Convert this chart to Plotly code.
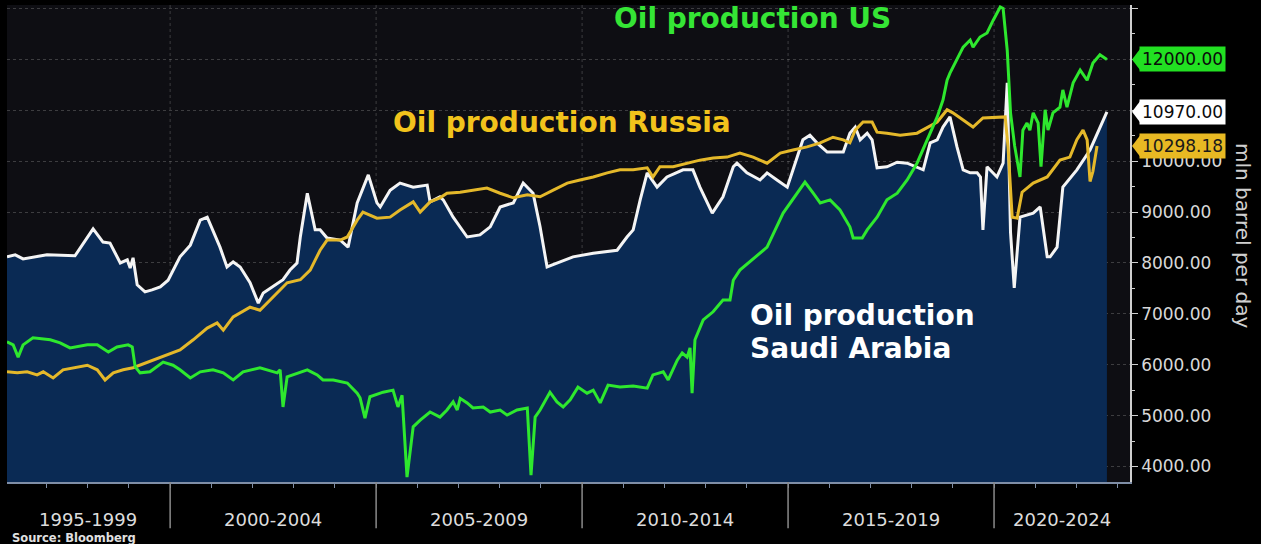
import plotly.graph_objects as go

# ---------------- data ----------------
saudi_x = [1996.04, 1996.24, 1996.43, 1997.01, 1997.69, 1998.13, 1998.37, 1998.54, 1998.79, 1998.96,
           1999.03, 1999.10, 1999.20, 1999.39, 1999.56, 1999.76, 1999.95, 2000.24, 2000.49, 2000.73,
           2000.90, 2001.21, 2001.38, 2001.53, 2001.70, 2001.94, 2002.14, 2002.26, 2002.74, 2002.91,
           2003.08, 2003.16, 2003.33, 2003.52, 2003.64, 2003.81, 2004.13, 2004.32, 2004.54, 2004.81,
           2005.02, 2005.10, 2005.34, 2005.58, 2005.90, 2006.24, 2006.31, 2006.55, 2006.63, 2006.87,
           2007.21, 2007.52, 2007.77, 2008.01, 2008.33, 2008.57, 2008.81, 2008.98, 2009.15, 2009.39,
           2009.78, 2010.27, 2010.85, 2011.09, 2011.24, 2011.41, 2011.58, 2011.82, 2012.06, 2012.45,
           2012.69, 2012.86, 2013.16, 2013.42, 2013.67, 2013.76, 2014.00, 2014.32, 2014.49, 2014.73,
           2014.98, 2015.12, 2015.36, 2015.53, 2015.70, 2015.95, 2016.34, 2016.50, 2016.63, 2016.75,
           2016.92, 2017.04, 2017.16, 2017.40, 2017.65, 2017.89, 2018.13, 2018.28, 2018.45, 2018.62,
           2018.76, 2018.93, 2019.10, 2019.25, 2019.42, 2019.59, 2019.67, 2019.73, 2019.83, 2020.07,
           2020.22, 2020.32, 2020.40, 2020.49, 2020.63, 2020.95, 2021.12, 2021.29, 2021.36, 2021.53,
           2021.67, 2022.01, 2022.33, 2022.74]
saudi_y = [8120, 8160, 8080, 8160, 8140, 8670, 8410, 8390, 8000, 8060,
           7900, 8100, 7570, 7430, 7470, 7530, 7660, 8120, 8350, 8840,
           8900, 8310, 7920, 8020, 7920, 7610, 7210, 7410, 7670, 7860,
           8000, 8510, 9370, 8650, 8650, 8490, 8450, 8310, 9180, 9730,
           9180, 9100, 9430, 9570, 9490, 9530, 9200, 9300, 9240, 8900,
           8510, 8550, 8710, 9100, 9180, 9570, 9370, 8710, 7920, 8000,
           8120, 8190, 8250, 8510, 8650, 9240, 9770, 9490, 9690, 9830,
           9830, 9490, 8980, 9300, 9890, 9960, 9770, 9630, 9770, 9630,
           9490, 9830, 10420, 10510, 10360, 10180, 10180, 10550, 10670, 10420,
           10550, 10420, 9870, 9890, 9980, 9960, 9870, 9830, 10360, 10420,
           10670, 10870, 10280, 9830, 9770, 9770, 9690, 8650, 9890, 9690,
           9960, 11540, 8600, 7510, 8900, 8980, 9100, 8120, 8120, 8310,
           9490, 9830, 10220, 10970]

us_x = [1996.04, 1996.19, 1996.31, 1996.43, 1996.67, 1997.09, 1997.33, 1997.57, 1997.99, 1998.23,
        1998.50, 1998.71, 1998.98, 1999.08, 1999.15, 1999.27, 1999.51, 1999.83, 2000.07, 2000.24,
        2000.49, 2000.73, 2001.04, 2001.29, 2001.53, 2001.77, 2002.18, 2002.35, 2002.60, 2002.67,
        2002.74, 2002.84, 2003.16, 2003.33, 2003.57, 2003.71, 2003.96, 2004.30, 2004.54, 2004.61,
        2004.73, 2004.85, 2005.17, 2005.41, 2005.53, 2005.63, 2005.75, 2005.90, 2006.07, 2006.31,
        2006.55, 2006.72, 2006.87, 2006.97, 2007.04, 2007.21, 2007.35, 2007.60, 2007.77, 2008.01,
        2008.18, 2008.42, 2008.67, 2008.76, 2008.86, 2008.98, 2009.22, 2009.39, 2009.54, 2009.71,
        2009.90, 2010.12, 2010.27, 2010.44, 2010.63, 2010.92, 2011.24, 2011.58, 2011.72, 2011.97,
        2012.09, 2012.31, 2012.43, 2012.55, 2012.62, 2012.67, 2012.74, 2012.94, 2013.18, 2013.42,
        2013.59, 2013.67, 2013.83, 2014.49, 2014.88, 2015.41, 2015.61, 2015.78, 2016.02, 2016.26,
        2016.50, 2016.58, 2016.80, 2016.92, 2017.16, 2017.40, 2017.65, 2017.89, 2018.13, 2018.37,
        2018.62, 2018.76, 2018.86, 2018.93, 2019.10, 2019.25, 2019.42, 2019.49, 2019.66, 2019.83,
        2019.98, 2020.15, 2020.22, 2020.32, 2020.40, 2020.50, 2020.63, 2020.70, 2020.80, 2020.87,
        2020.95, 2021.07, 2021.14, 2021.24, 2021.31, 2021.43, 2021.60, 2021.67, 2021.77, 2021.92,
        2022.09, 2022.26, 2022.40, 2022.57, 2022.74]
us_y = [6450, 6390, 6150, 6390, 6530, 6490, 6430, 6330, 6390, 6390,
        6250, 6350, 6390, 6350, 5960, 5840, 5860, 6050, 5990, 5900,
        5740, 5860, 5900, 5840, 5700, 5860, 5940, 5900, 5840, 5900,
        5170, 5760, 5860, 5900, 5800, 5700, 5700, 5640, 5440, 5350,
        4950, 5370, 5460, 5500, 5170, 5400, 3790, 4780, 4910, 5070,
        4970, 5110, 5270, 5110, 5340, 5250, 5150, 5170, 5070, 5110,
        5010, 5110, 5150, 3830, 4970, 5110, 5460, 5270, 5170, 5310,
        5560, 5440, 5500, 5250, 5600, 5560, 5580, 5540, 5800, 5860,
        5700, 6090, 6230, 6150, 6330, 5440, 6490, 6880, 7040, 7270,
        7270, 7660, 7860, 8310, 8980, 9590, 9370, 9180, 9240, 9040,
        8710, 8490, 8490, 8650, 8900, 9240, 9370, 9630, 9960, 10420,
        10870, 11200, 11590, 11730, 11990, 12240, 12380, 12240, 12440, 12520,
        12770, 13030, 13000, 12180, 10950, 10300, 9690, 10610, 10750, 10610,
        10950, 10750, 9890, 11010, 10610, 10950, 11060, 11400, 11060, 11540,
        11790, 11590, 11930, 12090, 12000]

russia_x = [1996.04, 1996.29, 1996.53, 1996.77, 1996.92, 1997.16, 1997.40, 1997.74, 1997.99, 1998.23,
            1998.42, 1998.62, 1998.86, 1999.10, 1999.27, 1999.59, 1999.93, 2000.24, 2000.56, 2000.90,
            2001.14, 2001.29, 2001.53, 2001.94, 2002.18, 2002.50, 2002.84, 2003.16, 2003.40, 2003.64,
            2003.81, 2004.13, 2004.30, 2004.54, 2004.68, 2005.02, 2005.34, 2005.58, 2005.90, 2006.07,
            2006.31, 2006.55, 2006.72, 2007.04, 2007.35, 2007.69, 2008.01, 2008.33, 2008.67, 2008.98,
            2009.30, 2009.64, 2009.95, 2010.27, 2010.61, 2010.92, 2011.24, 2011.58, 2011.72, 2011.89,
            2012.21, 2012.55, 2012.86, 2013.18, 2013.52, 2013.83, 2014.15, 2014.49, 2014.81, 2015.12,
            2015.46, 2015.78, 2016.09, 2016.34, 2016.50, 2016.63, 2016.82, 2017.04, 2017.16, 2017.40,
            2017.72, 2018.13, 2018.37, 2018.62, 2018.86, 2019.00, 2019.25, 2019.49, 2019.73, 2020.07,
            2020.27, 2020.34, 2020.44, 2020.56, 2020.68, 2020.95, 2021.29, 2021.60, 2021.84, 2022.01,
            2022.16, 2022.26, 2022.33, 2022.40, 2022.50]
russia_y = [5860, 5840, 5860, 5800, 5860, 5740, 5900, 5960, 5990, 5900,
            5700, 5840, 5900, 5940, 5990, 6090, 6190, 6290, 6490, 6720,
            6820, 6680, 6940, 7130, 7070, 7330, 7610, 7670, 7860, 8250,
            8450, 8450, 8510, 8840, 9000, 8880, 8900, 9040, 9200, 9000,
            9200, 9280, 9370, 9390, 9430, 9470, 9370, 9280, 9340, 9300,
            9430, 9570, 9630, 9690, 9770, 9830, 9830, 9870, 9690, 9890,
            9890, 9960, 10020, 10060, 10080, 10160, 10080, 9960, 10160, 10220,
            10280, 10360, 10470, 10420, 10360, 10610, 10770, 10770, 10570, 10550,
            10510, 10550, 10650, 10770, 11010, 10950, 10810, 10670, 10850, 10870,
            10870, 10280, 8900, 8880, 9390, 9570, 9690, 10020, 10080, 10420,
            10610, 10420, 9600, 9800, 10298.18]

period_labels = ["1995-1999", "2000-2004", "2005-2009", "2010-2014", "2015-2019", "2020-2024"]
label_centers = [1998.0, 2002.5, 2007.5, 2012.5, 2017.5, 2021.65]
separators = [2000, 2005, 2010, 2015, 2020]
minor_years = list(range(1997, 2024))
y_ticks = [4000, 5000, 6000, 7000, 8000, 9000, 10000, 11000, 12000, 13000]
y_minor = [4500, 5500, 6500, 7500, 8500, 9500, 10500, 11500, 12500]

# ---------------- styles ----------------
FONT = "DejaVu Sans"
WHITE = "#f4f4f4"
GOLD = "#e4b82a"
GREEN = "#2ee82e"
YMIN, YMAX = 3695, 13069
XMIN, XMAX = 1996.04, 2023.3
PLOT_W = 1261 - 7 - 131
PLOT_H = 544 - 5 - 62

fig = go.Figure()
fig.add_trace(go.Scatter(x=saudi_x, y=saudi_y, mode="lines", name="Saudi Arabia",
                         line=dict(color=WHITE, width=3), fill="tozeroy",
                         fillcolor="#0a2a54"))
fig.add_trace(go.Scatter(x=russia_x, y=russia_y, mode="lines", name="Russia",
                         line=dict(color=GOLD, width=3)))
fig.add_trace(go.Scatter(x=us_x, y=us_y, mode="lines", name="US",
                         line=dict(color=GREEN, width=3)))

shapes = []
for s in separators:
    shapes.append(dict(type="line", xref="x", yref="paper", x0=s, x1=s, y0=0, y1=1,
                       line=dict(color="rgba(150,150,150,0.35)", width=1, dash="dot"),
                       layer="below"))
    shapes.append(dict(type="line", xref="x", yref="paper", x0=s, x1=s, y0=-0.097, y1=0,
                       line=dict(color="#8a8a8a", width=1.5)))

annotations = []
for lab, c in zip(period_labels, label_centers):
    annotations.append(dict(x=c, xref="x", y=0, yref="paper", yshift=-37, text=lab,
                            showarrow=False, yanchor="middle", xanchor="center",
                            font=dict(family=FONT, size=18, color="#dcdcdc")))

# last-value tags
tags = [(us_y[-1], "#22e022", "#0a0a0a"),
        (saudi_y[-1], "#ffffff", "#0a0a0a"),
        (russia_y[-1], "#e8b923", "#1a1a1a")]
half = 10.5 * (YMAX - YMIN) / PLOT_H
for v, bg, fg in tags:
    annotations.append(dict(x=1 + 9 / PLOT_W, xref="paper", y=v, yref="y",
                            text="%.2f" % v, showarrow=False, xanchor="left",
                            yanchor="middle", bgcolor=bg, borderpad=2,
                            font=dict(family=FONT, size=17, color=fg)))
    x0 = 1 + 2 / PLOT_W
    x1 = 1 + 10 / PLOT_W
    shapes.append(dict(type="path", xref="paper", yref="y",
                       path=f"M {x0},{v} L {x1},{v + half} L {x1},{v - half} Z",
                       fillcolor=bg, line=dict(width=0)))

annotations += [
    dict(x=1 + 113 / PLOT_W, xref="paper", y=1 - (235 - 5) / PLOT_H, yref="paper",
         text="mln barrel per day", textangle=90, showarrow=False,
         xanchor="center", yanchor="middle",
         font=dict(family=FONT, size=20, color="#d0d0d0")),
    dict(x=(752 - 7) / PLOT_W, xref="paper", y=1 - (18 - 5) / PLOT_H, yref="paper",
         text="<b>Oil production US</b>", showarrow=False, xanchor="center", yanchor="middle",
         font=dict(family=FONT, size=28, color="#35e535")),
    dict(x=(562 - 7) / PLOT_W, xref="paper", y=1 - (123 - 5) / PLOT_H, yref="paper",
         text="<b>Oil production Russia</b>", showarrow=False, xanchor="center", yanchor="middle",
         font=dict(family=FONT, size=28, color="#f2c31c")),
    dict(x=(748 - 7) / PLOT_W, xref="paper", y=1 - (315 - 5) / PLOT_H, yref="paper",
         text="<b>Oil production</b>", showarrow=False, xanchor="left", yanchor="middle",
         font=dict(family=FONT, size=28, color="#ffffff")),
    dict(x=(748 - 7) / PLOT_W, xref="paper", y=1 - (348 - 5) / PLOT_H, yref="paper",
         text="<b>Saudi Arabia</b>", showarrow=False, xanchor="left", yanchor="middle",
         font=dict(family=FONT, size=28, color="#ffffff")),
    dict(x=(10 - 7) / PLOT_W, xref="paper", y=1 - (538 - 5) / PLOT_H, yref="paper",
         text="<b>Source: Bloomberg</b>", showarrow=False, xanchor="left", yanchor="middle",
         font=dict(family=FONT, size=11.5, color="#e0e0e0")),
]

fig.update_layout(
    width=1261, height=544,
    margin=dict(l=7, r=131, t=5, b=62),
    paper_bgcolor="#000000", plot_bgcolor="#0e0e13",
    showlegend=False,
    shapes=shapes, annotations=annotations,
    xaxis=dict(range=[XMIN, XMAX], showticklabels=False, ticks="", showgrid=False,
               zeroline=False, showline=True, linecolor="#7f8ea6", linewidth=1.5,
               minor=dict(tickmode="array", tickvals=minor_years, ticks="outside",
                          ticklen=4, tickcolor="#7f8ea6", showgrid=False)),
    yaxis=dict(side="right", range=[YMIN, YMAX], tickmode="array", tickvals=y_ticks,
               tickformat=".2f", ticks="outside", ticklen=6, tickcolor="#cfcfcf",
               tickfont=dict(family=FONT, size=17, color="#d8d8d8"),
               showline=True, linecolor="#cfcfcf", linewidth=1.5,
               showgrid=True, gridcolor="rgba(150,150,150,0.35)", griddash="dot",
               zeroline=False,
               minor=dict(tickmode="array", tickvals=y_minor, ticks="outside", ticklen=3,
                          tickcolor="#cfcfcf", showgrid=False)),
)

fig.write_html("out.html", config={"displayModeBar": False},
               post_script="document.body.style.margin='0px';document.body.style.background='#000';")
